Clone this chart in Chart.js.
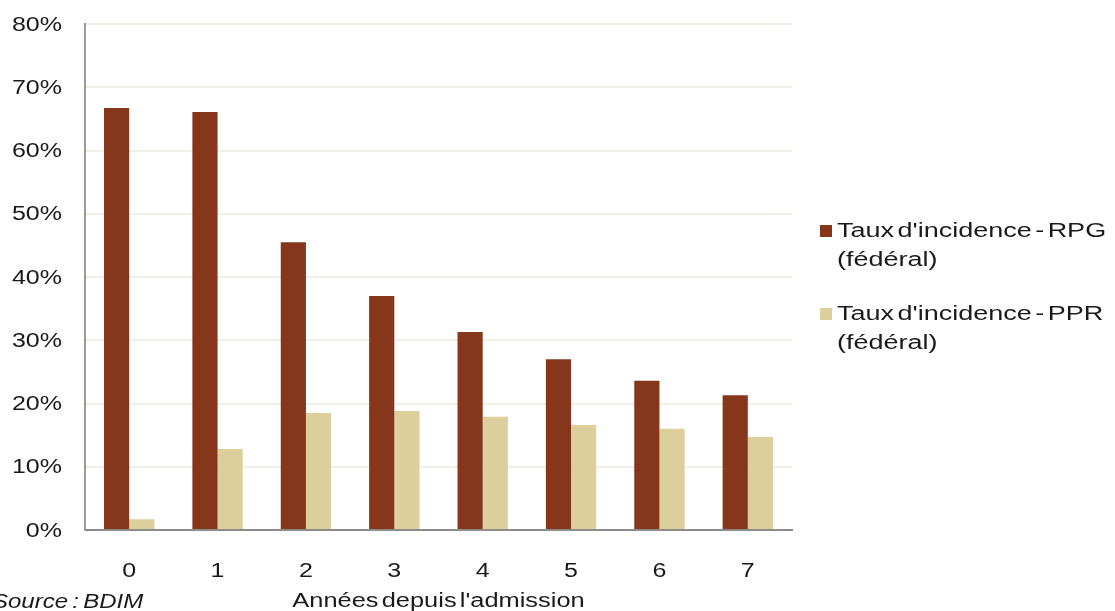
<!DOCTYPE html>
<html>
<head>
<meta charset="utf-8">
<script src="https://cdn.jsdelivr.net/npm/chart.js@4/dist/chart.umd.min.js"></script>
<style>
  html, body { margin: 0; padding: 0; background: #fff; }
  #wrap { width: 1115px; height: 611px; position: relative; }
</style>
</head>
<body>
<div id="wrap"><canvas id="c" width="1115" height="611"></canvas></div>
<script>
// Years since admission
const categories = ['0', '1', '2', '3', '4', '5', '6', '7'];
// Incidence rates (%)
const rpgValues = [66.7, 66.1, 45.5, 37.0, 31.3, 27.0, 23.6, 21.3];
const pprValues = [1.7, 12.8, 18.5, 18.8, 17.9, 16.6, 16.0, 14.7];
const seriesLabels = [
  ["Taux d'incidence - RPG", "(fédéral)"],
  ["Taux d'incidence - PPR", "(fédéral)"]
];
const yTicks = [0, 10, 20, 30, 40, 50, 60, 70, 80];
const xTitle = "Années depuis l'admission";
const sourceText = "Source : BDIM";

const FONT = "'Liberation Sans', Arial, sans-serif";
const TEXT = '#1a1a1a';

// Text drawn with a slight horizontal stretch and tighter word gaps
function wideText(ctx, str, x, y, align, sx, gap) {
  ctx.save();
  ctx.translate(x, y);
  ctx.scale(sx, 1);
  ctx.textAlign = align;
  ctx.wordSpacing = (gap || 0) + 'px';
  ctx.fillText(str, 0, 0);
  ctx.restore();
}

// Tick labels, two-line legend, axis title and source note
const extras = {
  id: 'extras',
  afterDraw(chart) {
    const ctx = chart.ctx;
    const area = chart.chartArea;
    const xs = chart.scales.x, ys = chart.scales.y;
    ctx.save();
    ctx.fillStyle = TEXT;
    ctx.font = '20px ' + FONT;
    ctx.textBaseline = 'middle';

    ys.ticks.forEach(t => {
      wideText(ctx, t.value + '%', 62, ys.getPixelForValue(t.value) + 1, 'right', 1.25);
    });
    xs.ticks.forEach((t, i) => {
      wideText(ctx, chart.data.labels[i], xs.getPixelForTick(i), 571, 'center', 1.25);
    });

    wideText(ctx, xTitle, (area.left + area.right) / 2, 601, 'center', 1.27, -3);

    const starts = [231, 314];
    chart.data.datasets.forEach((d, i) => {
      const y0 = starts[i];
      ctx.fillStyle = d.backgroundColor;
      ctx.fillRect(820, y0 - 6, 12, 12);
      ctx.fillStyle = TEXT;
      d.legendLines.forEach((line, j) => {
        wideText(ctx, line, 837, y0 + j * 29, 'left', 1.35, -3);
      });
    });

    ctx.font = 'italic 20px ' + FONT;
    wideText(ctx, sourceText, -8, 602, 'left', 1.2, -2);
    ctx.restore();
  }
};

new Chart(document.getElementById('c'), {
  type: 'bar',
  data: {
    labels: categories,
    datasets: [
      { label: seriesLabels[0].join(' '), legendLines: seriesLabels[0], data: rpgValues,
        backgroundColor: '#86371b', borderWidth: 0 },
      { label: seriesLabels[1].join(' '), legendLines: seriesLabels[1], data: pprValues,
        backgroundColor: '#dccf9b', borderWidth: 0 }
    ]
  },
  options: {
    responsive: false,
    animation: false,
    layout: { padding: { top: 24, right: 323, left: 0, bottom: 0 } },
    plugins: { legend: { display: false }, tooltip: { enabled: false } },
    datasets: { bar: { categoryPercentage: 0.57, barPercentage: 1.0 } },
    scales: {
      x: {
        grid: { display: false },
        border: { display: true, color: '#8c8c8c', width: 2 },
        ticks: { display: false },
        afterFit(s) { s.height = 81; }
      },
      y: {
        min: 0, max: 80,
        afterBuildTicks(s) { s.ticks = yTicks.map(v => ({ value: v })); },
        grid: { color: '#f1f0e8', lineWidth: 2, drawTicks: false },
        border: { display: true, color: '#9a9a9a', width: 2 },
        ticks: { display: false },
        afterFit(s) { s.width = 85; }
      }
    }
  },
  plugins: [extras]
});
</script>
</body>
</html>
